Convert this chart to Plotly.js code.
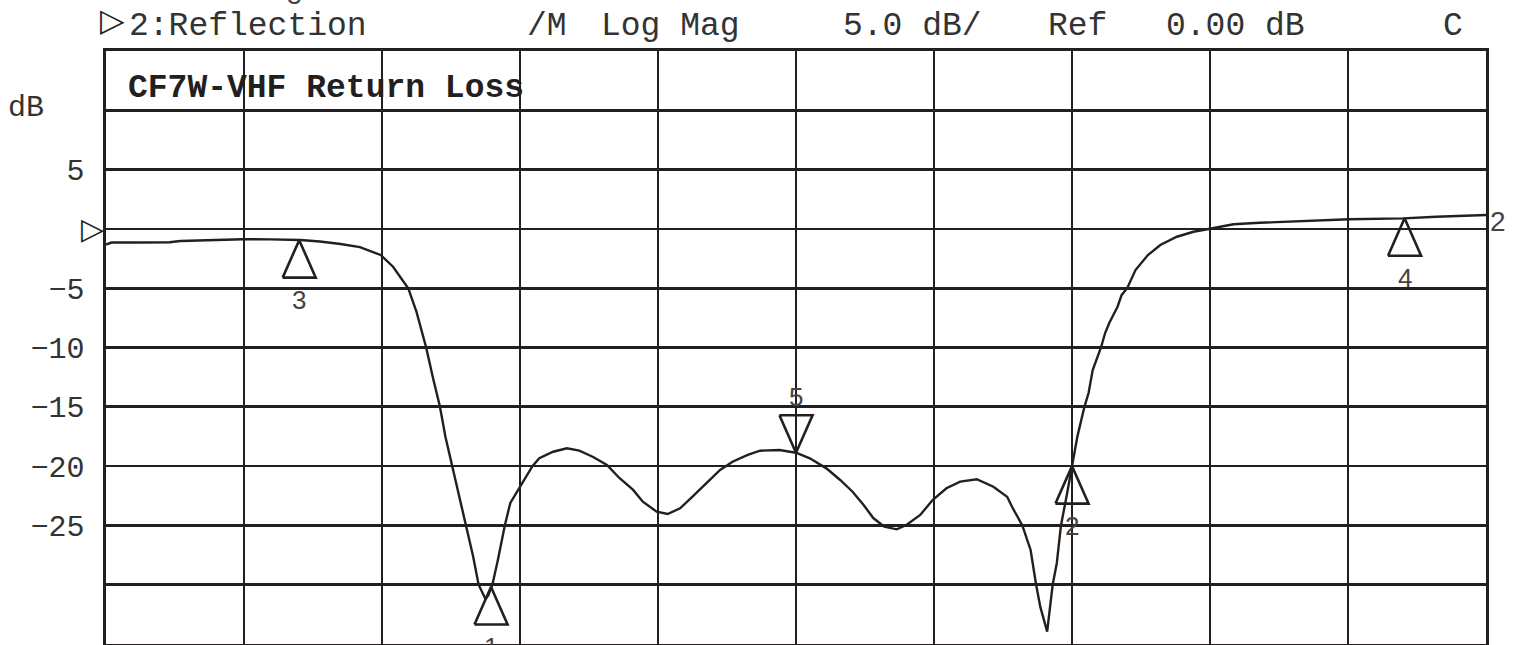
<!DOCTYPE html>
<html>
<head>
<meta charset="utf-8">
<script src="https://cdn.plot.ly/plotly-3.0.1.min.js"></script>
<style>html,body{margin:0;padding:0;background:#fff;}#chart{width:1520px;height:645px;}</style>
</head>
<body>
<div id="chart"></div>
<script>
// Trace: x in graticule divisions (0..10), y in dB
const traceX = [0.00,0.04,0.25,0.46,0.54,0.75,0.99,1.19,1.41,1.55,1.70,1.84,1.99,2.08,2.13,2.19,2.25,2.32,2.37,2.42,2.46,2.51,2.56,2.61,2.66,2.70,2.75,2.77,2.80,2.84,2.89,2.93,3.00,3.09,3.14,3.24,3.34,3.43,3.53,3.63,3.72,3.82,3.89,3.99,4.07,4.16,4.25,4.36,4.45,4.54,4.65,4.74,4.88,5.00,5.10,5.22,5.32,5.41,5.49,5.56,5.64,5.73,5.80,5.90,5.99,6.09,6.19,6.31,6.43,6.53,6.57,6.64,6.70,6.74,6.77,6.82,6.86,6.89,6.92,6.96,7.00,7.04,7.09,7.12,7.15,7.21,7.24,7.27,7.33,7.36,7.40,7.46,7.55,7.64,7.76,7.88,7.98,8.17,8.36,8.60,8.80,9.01,9.40,9.64,10.00];
const traceY = [-1.32,-1.15,-1.15,-1.13,-1.02,-0.94,-0.87,-0.88,-0.94,-1.06,-1.27,-1.53,-2.20,-3.19,-3.97,-5.00,-7.00,-10.00,-12.60,-15.00,-17.55,-20.00,-22.45,-25.00,-27.60,-30.00,-31.20,-30.90,-30.00,-27.90,-25.00,-23.10,-21.70,-20.00,-19.33,-18.79,-18.50,-18.70,-19.23,-19.91,-21.00,-22.01,-23.00,-23.84,-24.04,-23.56,-22.58,-21.32,-20.33,-19.63,-19.06,-18.70,-18.64,-18.87,-19.34,-20.19,-21.17,-22.16,-23.28,-24.38,-25.11,-25.33,-24.97,-24.12,-22.86,-21.87,-21.31,-21.11,-21.74,-22.58,-23.53,-25.00,-27.07,-30.00,-31.85,-33.96,-30.00,-28.17,-25.00,-22.58,-20.00,-17.45,-15.00,-13.84,-11.90,-10.00,-8.78,-7.93,-6.56,-5.57,-5.00,-3.47,-2.20,-1.36,-0.66,-0.24,-0.03,0.39,0.52,0.61,0.73,0.81,0.89,1.03,1.17];

// Markers
const markerNames = ['1','2','3','4','5'];
const markerX = [2.79, 7.00, 1.40, 9.41, 5.00];
const markerY = [-30.2, -20.0, -0.95, 0.89, -18.87];
const markerDir = ['up','up','up','up','down'];

// Axis ticks
const yTickVals = [-30,-25,-20,-15,-10,-5,0,5,10];
const yTickText = ['','\u221225','\u221220','\u221215','\u221210','\u22125','','5',''];
const xTickVals = [1,2,3,4,5,6,7,8,9];

const INK = '#231f20';
const triHalfW = 0.12, triH = 3.16;

const traces = [{
  x: traceX, y: traceY, type: 'scatter', mode: 'lines',
  line: {color: INK, width: 2.4}, hoverinfo: 'skip'
}];

const annotations = [];
markerNames.forEach((n, i) => {
  const x = markerX[i], y = markerY[i];
  const s = markerDir[i] === 'up' ? -1 : 1;
  traces.push({
    x: [x - triHalfW, x, x + triHalfW, x - triHalfW],
    y: [y + s*triH, y, y + s*triH, y + s*triH],
    type: 'scatter', mode: 'lines', line: {color: INK, width: 2.6}, hoverinfo: 'skip'
  });
  annotations.push({
    x: x, y: y, xref: 'x', yref: 'y', text: n, showarrow: false, xanchor: 'center',
    yshift: markerDir[i] === 'up' ? -60 : 56,
    font: {family: 'Liberation Sans', size: 26, color: '#444'}
  });
});

const mono = 'Liberation Mono';
function px2paperX(px){ return (px - 106) / 1380; }
const header = [
  ['2:Reflection', 248], ['/M', 547], ['Log Mag', 670], ['5.0 dB/', 913],
  ['Ref', 1077], ['0.00 dB', 1235], ['C', 1453]
];
header.forEach(h => annotations.push({
  x: px2paperX(h[1]), y: 1, xref: 'paper', yref: 'paper', xanchor: 'center', yanchor: 'middle',
  yshift: 25, text: h[0], showarrow: false, font: {family: mono, size: 33, color: '#333'}
}));
annotations.push({x: px2paperX(112), y: 1, xref: 'paper', yref: 'paper', xanchor: 'center', yanchor: 'middle', yshift: 31,
  text: '<b>\u25B7</b>', showarrow: false, font: {family: 'DejaVu Sans', size: 32, color: INK}});
annotations.push({x: px2paperX(294), y: 1, xref: 'paper', yref: 'paper', xanchor: 'center', yanchor: 'middle', yshift: 56,
  text: '3', showarrow: false, font: {family: 'Liberation Sans', size: 26, color: '#444'}});
annotations.push({x: px2paperX(326), y: (644 - 88) / 593, xref: 'paper', yref: 'paper', xanchor: 'center', yanchor: 'middle',
  text: '<b>CF7W-VHF Return Loss</b>', showarrow: false, font: {family: mono, size: 33, color: INK}});
annotations.push({x: px2paperX(26), y: (644 - 108) / 593, xref: 'paper', yref: 'paper', xanchor: 'center', yanchor: 'middle',
  text: 'dB', showarrow: false, font: {family: mono, size: 30, color: '#333'}});
// reference level marker at 0 dB
annotations.push({x: px2paperX(92), y: 0, xref: 'paper', yref: 'y', xanchor: 'center', yanchor: 'middle',
  text: '<b>\u25B7</b>', showarrow: false, font: {family: 'DejaVu Sans', size: 30, color: INK}});
// trace end label
annotations.push({x: traceX[traceX.length-1], y: traceY[traceY.length-1], xref: 'x', yref: 'y',
  xanchor: 'left', xshift: 2, yshift: -6, text: '2', showarrow: false,
  font: {family: 'Liberation Sans', size: 28, color: '#444'}});

const layout = {
  width: 1520, height: 645,
  margin: {l: 106, r: 34, t: 51, b: 1, pad: 0},
  paper_bgcolor: '#fff', plot_bgcolor: '#fff',
  showlegend: false,
  xaxis: {range: [0, 10], tickvals: xTickVals, showticklabels: false, ticks: '',
    showgrid: true, gridcolor: INK, gridwidth: 2.6, zeroline: false,
    showline: true, mirror: true, linecolor: INK, linewidth: 2.6, fixedrange: true},
  yaxis: {range: [-35, 15], tickvals: yTickVals, ticktext: yTickText, ticks: '',
    tickfont: {family: mono, size: 30, color: '#333'}, ticklabelstandoff: 13,
    showgrid: true, gridcolor: INK, gridwidth: 2.6, zeroline: false,
    showline: true, mirror: true, linecolor: INK, linewidth: 2.6, fixedrange: true},
  annotations: annotations
};

Plotly.newPlot('chart', traces, layout, {staticPlot: true, displayModeBar: false});
</script>
</body>
</html>
